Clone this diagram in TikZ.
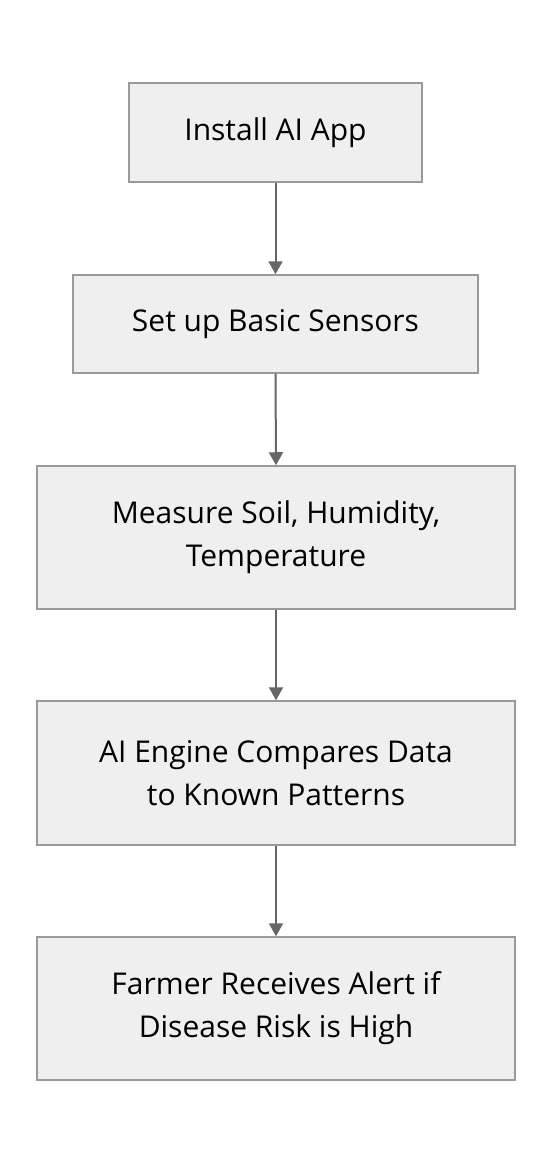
\documentclass[tikz,border=0pt]{standalone}
\usepackage{fontspec}
\setmainfont{Open Sans}
\usetikzlibrary{arrows.meta}
\definecolor{boxfill}{HTML}{EFEFEF}
\definecolor{boxline}{HTML}{9A9A9A}
\definecolor{arrowc}{HTML}{666666}
\begin{document}
\begin{tikzpicture}[x=1pt,y=-1pt,
  stepbox/.style={draw=boxline,fill=boxfill,line width=1.5pt,inner sep=0pt,align=center,font=\fontsize{30}{43}\selectfont},
  conn/.style={draw=arrowc,line width=2pt,-{Triangle[length=13pt,width=14pt]}}]
\useasboundingbox (0,0) rectangle (552,1164);
\node[stepbox,minimum width=293pt,minimum height=99pt] (a) at (275.5,132.5) {Install AI App};
\node[stepbox,minimum width=405pt,minimum height=98pt] (b) at (275.5,324) {Set up Basic Sensors};
\node[stepbox,minimum width=478pt,minimum height=143pt] (c) at (276,537.5) {Measure Soil, Humidity,\\Temperature};
\node[stepbox,minimum width=478pt,minimum height=144pt] (d) at (276,773) {AI Engine Compares Data\\ to Known Patterns};
\node[stepbox,minimum width=478pt,minimum height=143pt] (e) at (276,1008.5) {Farmer Receives Alert if\\ Disease Risk is High};
\draw[conn] (a.south) -- (b.north);
\draw[conn] (b.south) -- (c.north);
\draw[conn] (c.south) -- (d.north);
\draw[conn] (d.south) -- (e.north);
\end{tikzpicture}
\end{document}
